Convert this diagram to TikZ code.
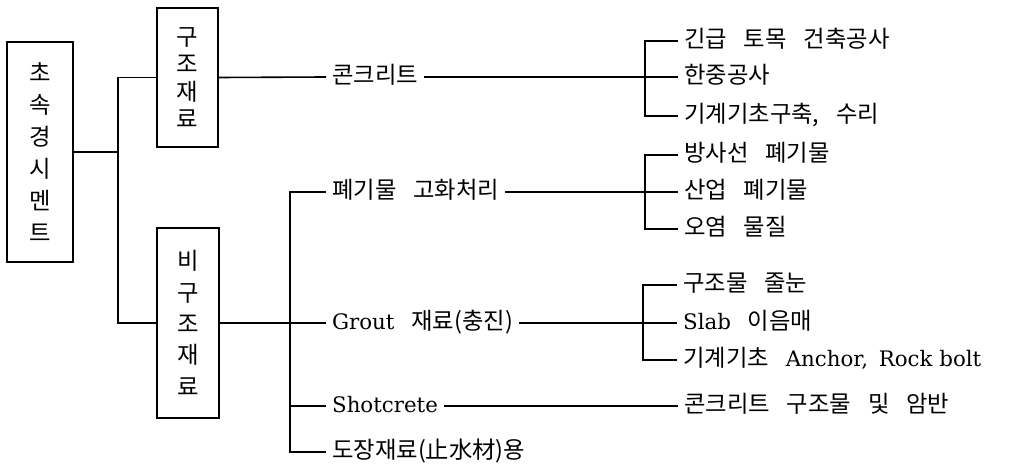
\documentclass[tikz,border=0pt]{standalone}
\usepackage{fontspec}
\newfontfamily\kr{Noto Sans CJK KR}
\newfontfamily\latf{DejaVu Serif}
\newcommand\latn[1]{{\latf\fontsize{16}{20}\selectfont #1}}
\newcommand\kgap{\hspace{0.72em}}
\begin{document}
\begin{tikzpicture}[x=0.75pt,y=-0.75pt,line width=1.2pt,
  lbl/.style={font=\kr\fontsize{17.5}{20}\selectfont,inner xsep=4pt,inner ysep=0pt,text height=14pt,text depth=4pt,anchor=west},
  leaf/.style={lbl},
  mid/.style={lbl},
  vbox/.style={draw,line width=1.4pt,align=center,inner sep=0pt},
]
\useasboundingbox (0,0) rectangle (1023,470);

% boxes
\node[vbox,minimum width=49.5pt,minimum height=165pt,font=\kr\fontsize{17.5}{24}\selectfont] (root) at (40,152) {초\\속\\경\\시\\멘\\트};
\node[vbox,minimum width=45.75pt,minimum height=104.25pt,font=\kr\fontsize{17.5}{20.5}\selectfont] (struct) at (187.5,77.5) {구\\조\\재\\료};
\node[vbox,minimum width=46.5pt,minimum height=142.5pt,font=\kr\fontsize{17.5}{23.5}\selectfont] (nonstruct) at (188,323) {비\\구\\조\\재\\료};

\coordinate (j1) at (118,152);
\draw (root.east) -- (j1);
\draw (struct.west) -| (j1) |- (nonstruct.west);

% concrete branch
\node[mid] (con) at (326,77) {콘크리트};
\draw (struct.east) -- (con.west);
\coordinate (j2) at (645,77);
\node[leaf] (l11) at (678,41) {긴급\kgap 토목\kgap 건축공사};
\node[leaf] (l12) at (678,77) {한중공사};
\node[leaf] (l13) at (678,116) {기계기초구축,\kgap 수리};
\draw (con.east) -- (l12.west);
\draw (l11.west) -| (j2) |- (l13.west);

% non-structural branch
\coordinate (j3) at (290,323);
\node[mid] (waste) at (326,192) {폐기물\kgap 고화처리};
\node[mid] (grout) at (326,323) {\latn{Grout}\kgap 재료(충진)};
\node[mid] (shot) at (326,406) {\latn{Shotcrete}};
\node[mid] (paint) at (326,452) {도장재료(止水材)용};
\draw (nonstruct.east) -- (grout.west);
\draw (waste.west) -| (j3) |- (paint.west);
\draw (j3 |- shot.west) -- (shot.west);

% waste leaves
\coordinate (j4) at (645,192);
\node[leaf] (l21) at (678,155) {방사선\kgap 폐기물};
\node[leaf] (l22) at (678,192) {산업\kgap 폐기물};
\node[leaf] (l23) at (678,229) {오염\kgap 물질};
\draw (waste.east) -- (l22.west);
\draw (l21.west) -| (j4) |- (l23.west);

% grout leaves
\coordinate (j5) at (643,323);
\node[leaf] (l31) at (677,285) {구조물\kgap 줄눈};
\node[leaf] (l32) at (677,323) {\latn{Slab}\kgap 이음매};
\node[leaf] (l33) at (677,360) {기계기초\kgap\latn{Anchor,\hspace{0.5em}Rock bolt}};
\draw (grout.east) -- (l32.west);
\draw (l31.west) -| (j5) |- (l33.west);

% shotcrete leaf
\node[leaf] (l41) at (678,406) {콘크리트\kgap 구조물\kgap 및\kgap 암반};
\draw (shot.east) -- (l41.west);
\end{tikzpicture}
\end{document}
